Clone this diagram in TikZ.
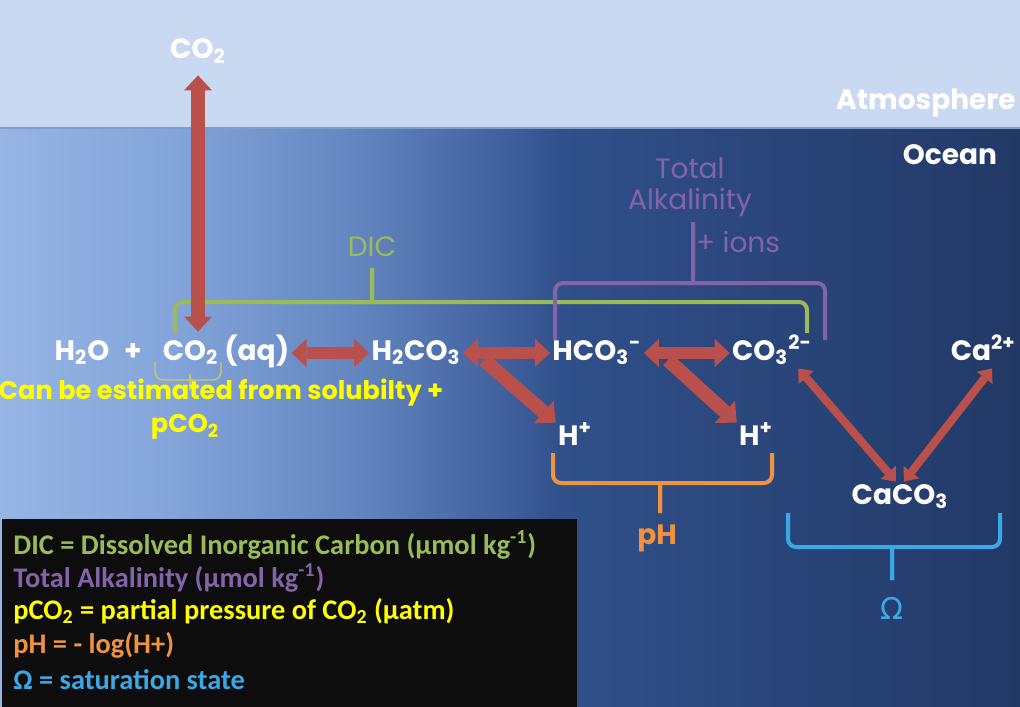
\documentclass[tikz,border=0pt]{standalone}
\usepackage{fontspec}
\setmainfont{Poppins}
\newfontfamily\legendfont{Carlito}
\newfontfamily\greekfont{DejaVu Sans}
\usetikzlibrary{arrows.meta}
\definecolor{skyblue}{HTML}{C9D9F1}
\definecolor{skyline}{HTML}{7E9ED0}
\definecolor{sea0}{HTML}{96B5E5}
\definecolor{sea1}{HTML}{84A5DA}
\definecolor{sea2}{HTML}{6487C1}
\definecolor{sea3}{HTML}{3C5C99}
\definecolor{sea4}{HTML}{30508B}
\definecolor{sea5}{HTML}{223966}
\definecolor{arrowred}{HTML}{B9504C}
\definecolor{dicgreen}{HTML}{9BBB59}
\definecolor{alkpurple}{HTML}{8464A8}
\definecolor{phorange}{HTML}{F0923E}
\definecolor{omegablue}{HTML}{3BA8E6}
\definecolor{noteyellow}{HTML}{FFFF00}
\definecolor{bracketyellow}{HTML}{CFCB5A}
\definecolor{legendbg}{HTML}{0D0D0D}
\pgfdeclarehorizontalshading{oceanshade}{100bp}{color(0bp)=(sea0); color(25bp)=(sea0); color(33.3bp)=(sea1); color(42.2bp)=(sea2); color(50.5bp)=(sea3); color(52.5bp)=(sea4); color(75bp)=(sea5); color(100bp)=(sea5)}
\begin{document}
\begin{tikzpicture}[x=0.5pt, y=-0.5pt,
  chem/.style={text=white, inner sep=1pt, text height=10pt, text depth=3pt, font=\bfseries\fontsize{14}{16}\selectfont},
  plain/.style={inner sep=1pt, font=\fontsize{14}{16}\selectfont},
  note/.style={text=noteyellow, inner sep=1pt, font=\bfseries\fontsize{12.8}{15}\selectfont},
  bigarrow/.style={draw=arrowred, line width=7pt, arrows={Triangle[length=7.5pt,width=14pt,line width=0pt]-Triangle[length=7.5pt,width=14pt,line width=0pt]}},
  redarrow/.style={draw=arrowred, line width=6pt, arrows={Triangle[length=7.5pt,width=14pt,line width=0pt]-Triangle[length=7.5pt,width=14pt,line width=0pt]}},
  forkarrow/.style={draw=arrowred, line width=7pt, arrows={-Triangle[length=8pt,width=15pt,line width=0pt]}},
  thinarrow/.style={draw=arrowred, line width=4pt, arrows={Triangle[length=6pt,width=10pt,line width=0pt]-Triangle[length=6pt,width=10pt,line width=0pt]}},
  bracket/.style={rounded corners=4pt}]
  \useasboundingbox (0,0) rectangle (1020,706);
  % sky and sea
  \fill[skyblue] (0,0) rectangle (1020,128);
  \shade[shading=oceanshade] (0,128) rectangle (1020,706);
  \draw[skyline, line width=1pt] (0,128) -- (1020,128);

  % brackets
  \foreach \xa/\xb/\xm/\ya/\yb/\yt/\c/\w in {175/807/372/333/302/268/dicgreen/2pt, 555/825/693/340/283/222/alkpurple/2pt, 553/772/660/453/483/513/phorange/2pt, 788/1000/892/513/547/580/omegablue/2pt, 155/221/190/362/380/388/bracketyellow/0.7pt} {
    \draw[bracket, \c, line width=\w] (\xa,\ya) -- (\xa,\yb) -- (\xm-7,\yb) .. controls (\xm-1,\yb) and (\xm,\yb) .. (\xm,{\yb+0.3*(\yt-\yb)}) -- (\xm,\yt);
    \draw[bracket, \c, line width=\w] (\xb,\ya) -- (\xb,\yb) -- (\xm+7,\yb) .. controls (\xm+1,\yb) and (\xm,\yb) .. (\xm,{\yb+0.3*(\yt-\yb)}) -- (\xm,\yt);
  }

  \node[chem] (co2air) at (198,52) {CO\textsubscript{2}};
  \node[chem, anchor=east] (atmos) at (1018,103) {Atmosphere};
  \node[chem] (ocean) at (950,157) {Ocean};
  \node[chem] (h2o) at (82,353) {H\textsubscript{2}O};
  \node[chem] (plus) at (133,353) {+};
  \node[chem] (co2aq) at (226,353) {CO\textsubscript{2} (aq)};
  \node[chem] (h2co3) at (416,353) {H\textsubscript{2}CO\textsubscript{3}};
  \node[chem] (hco3) at (597,353) {HCO\textsubscript{3}\textsuperscript{-}};
  \node[chem] (co3) at (772,353) {CO\textsubscript{3}\textsuperscript{2-}};
  \node[chem, anchor=east] (ca) at (1018,353) {Ca\textsuperscript{2+}};
  \node[chem] (hplus1) at (575,438) {H\textsuperscript{+}};
  \node[chem] (hplus2) at (756,438) {H\textsuperscript{+}};
  \node[chem] (caco3) at (900,497) {CaCO\textsubscript{3}};

  \node[plain, text=dicgreen] (dic) at (372,247) {DIC};
  \node[plain, text=alkpurple] (total) at (690,168) {Total};
  \node[plain, text=alkpurple] (alk) at (690,202) {Alkalinity};
  \node[plain, text=alkpurple] (ions) at (738,242) {+ ions};
  \node[chem, text=phorange] (ph) at (657,537) {pH};
  \node[plain, text=omegablue, font=\greekfont\fontsize{15}{17}\selectfont] (omega) at (892,608) {Ω};
  \node[note] (remark) at (221,393) {Can be estimated from solubilty +};
  \node[note] (remarkp) at (185,427) {pCO\textsubscript{2}};

  % reactions
  \draw[bigarrow, shorten <=4pt, shorten >=3pt] (co2air) -- (co2air |- co2aq.north);
  \draw[redarrow] (co2aq) -- (h2co3);
  \draw[redarrow] (h2co3) -- (hco3);
  \draw[redarrow] (hco3) -- (co3);
  \coordinate (fork1) at (484,360);
  \coordinate (fork2) at (668,360);
  \draw[forkarrow] (fork1) -- (hplus1.north west);
  \draw[forkarrow] (fork2) -- (hplus2.north west);
  \draw[thinarrow] ([xshift=-8pt]co3.south east) -- ([xshift=-2pt]caco3.north);
  \draw[thinarrow] ([xshift=-13pt]ca.south east) -- ([xshift=2pt]caco3.north);

  % legend
  \fill[legendbg] (2,519) rectangle (577,712);
  \foreach \y/\c/\t in {545/dicgreen/{DIC = Dissolved Inorganic Carbon (µmol kg\textsuperscript{-1})}, 578/alkpurple/{Total Alkalinity (µmol kg\textsuperscript{-1})}, 611/noteyellow/{pCO\textsubscript{2} = partial pressure of CO\textsubscript{2} (µatm)}, 645/phorange/{pH = - log(H+)}, 680/omegablue/{Ω = saturation state}}
    \node[anchor=west, inner sep=0pt, text=\c, font=\legendfont\bfseries\fontsize{14.2}{16}\selectfont] (key\y) at (13,\y) {\t};
\end{tikzpicture}
\end{document}
